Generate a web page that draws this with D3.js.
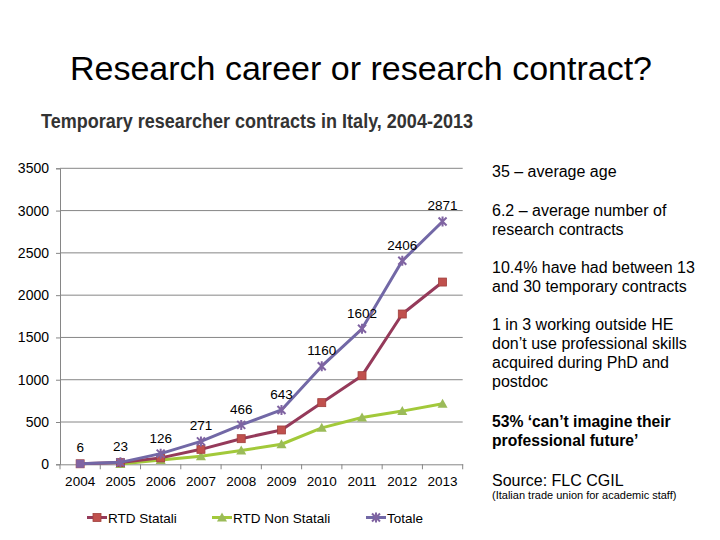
<!DOCTYPE html>
<html><head><meta charset="utf-8">
<script src="https://cdn.jsdelivr.net/npm/d3@7/dist/d3.min.js"></script>
<style>
body{margin:0;background:#fff;}
svg{display:block;font-family:"Liberation Sans",Arial,sans-serif;}
</style></head>
<body>
<svg id="c" width="720" height="540"></svg>
<script>
const years = ["2004","2005","2006","2007","2008","2009","2010","2011","2012","2013"];
const statali = [6, 20, 76, 177, 303, 406, 729, 1048, 1777, 2155];
const nonStatali = [null, 3, 50, 94, 163, 237, 431, 554, 629, 716];
const totale = [6, 23, 126, 271, 466, 643, 1160, 1602, 2406, 2871];
const yTicks = [0, 500, 1000, 1500, 2000, 2500, 3000, 3500];
const seriesNames = ["RTD Statali", "RTD Non Statali", "Totale"];
const notes = [
  ["35 – average age"],
  ["6.2 – average number of", "research contracts"],
  ["10.4% have had between 13", "and 30 temporary contracts"],
  ["1 in 3 working outside HE", "don’t use professional skills", "acquired during PhD and", "postdoc"]
];
const boldNote = ["53% ‘can’t imagine their", "professional future’"];
const source = "Source: FLC CGIL";
const sourceNote = "(Italian trade union for academic staff)";

const svg = d3.select("#c");
const L = 60, R = 462.7, T = 168.3, B = 464.3;
const x = d3.scaleBand().domain(years).range([L, R]);
const y = d3.scaleLinear().domain([0, 3500]).range([B, T]);
const cx = d => x(d) + x.bandwidth() / 2;

// Title
svg.append("text").attr("x", 361).attr("y", 80).attr("text-anchor", "middle")
  .attr("font-size", 34).attr("fill", "#000").text("Research career or research contract?");
svg.append("text").attr("x", 41).attr("y", 128)
  .attr("font-weight", "bold").attr("font-size", 19.5).attr("fill", "#333")
  .attr("textLength", 432).attr("lengthAdjust", "spacingAndGlyphs")
  .text("Temporary researcher contracts in Italy, 2004-2013");

// grid
const g = svg.append("g");
g.selectAll("line.grid").data(yTicks.slice(1)).join("line")
  .attr("x1", L).attr("x2", R).attr("y1", d => y(d)).attr("y2", d => y(d))
  .attr("stroke", "#868686").attr("stroke-width", 1);

// y axis
const yAxis = d3.axisLeft(y).tickValues(yTicks).tickFormat(d3.format("d")).tickSize(4).tickPadding(7);
const ya = svg.append("g").attr("transform", `translate(${L},0)`).call(yAxis);
ya.select(".domain").attr("stroke", "#868686");
ya.selectAll(".tick line").attr("stroke", "#868686");
ya.selectAll(".tick text").attr("font-size", 14).attr("fill", "#000")
  .attr("font-family", "'Liberation Sans',Arial,sans-serif");

// x axis
const xAxis = d3.axisBottom(x).tickSize(0).tickPadding(12);
const xa = svg.append("g").attr("transform", `translate(0,${B})`).call(xAxis);
xa.select(".domain").attr("stroke", "#868686");
xa.selectAll(".tick text").attr("font-size", 13.5).attr("fill", "#000")
  .attr("font-family", "'Liberation Sans',Arial,sans-serif");
const bounds = years.map(d => x(d)).concat([R]);
xa.selectAll("line.bt").data(bounds).join("line").attr("class", "bt")
  .attr("x1", d => d).attr("x2", d => d).attr("y1", 0).attr("y2", 5)
  .attr("stroke", "#868686");

const lineColors = ["#953a5a", "#a2c93a", "#7268a6"];
const markColors = ["#c0504d", "#9bbb59", "#8064a2"];
const data = [statali, nonStatali, totale];
const line = d3.line().defined(d => d.v !== null).x(d => cx(d.k)).y(d => y(d.v));

function marker(sel, i, px, py) {
  if (i === 0) {
    sel.append("rect").attr("x", px - 4).attr("y", py - 4).attr("width", 8).attr("height", 8)
      .attr("fill", markColors[0]).attr("stroke", "#a0403d").attr("stroke-width", 0.8);
  } else if (i === 1) {
    sel.append("path").attr("d", `M${px},${py - 5}L${px + 5},${py + 4}L${px - 5},${py + 4}Z`)
      .attr("fill", markColors[1]);
  } else {
    sel.append("path").attr("d", `M${px - 4},${py - 4}L${px + 4},${py + 4}M${px + 4},${py - 4}L${px - 4},${py + 4}M${px},${py - 5}L${px},${py + 5}`)
      .attr("stroke", markColors[2]).attr("stroke-width", 2).attr("fill", "none");
  }
}

[1, 0, 2].forEach(i => {
  const pts = years.map((k, j) => ({ k, v: data[i][j] }));
  svg.append("path").datum(pts).attr("d", line).attr("fill", "none")
    .attr("stroke", lineColors[i]).attr("stroke-width", 3).attr("stroke-linejoin", "round");
  const mg = svg.append("g");
  pts.filter(p => p.v !== null).forEach(p => {
    if (i === 2 && p.k === "2004") {
      mg.append("rect").attr("x", cx(p.k) - 4).attr("y", y(p.v) - 4).attr("width", 8).attr("height", 8)
        .attr("fill", markColors[2]);
    } else marker(mg, i, cx(p.k), y(p.v));
  });
});

// data labels
svg.append("g").selectAll("text").data(years).join("text")
  .attr("x", d => cx(d))
  .attr("y", (d, j) => Math.min(y(totale[j]) - 11, 452))
  .attr("text-anchor", "middle").attr("font-size", 13.5).attr("fill", "#000")
  .text((d, j) => totale[j]);

// legend
const lx = [87, 212, 366];
seriesNames.forEach((n, i) => {
  const lg = svg.append("g");
  lg.append("line").attr("x1", lx[i]).attr("x2", lx[i] + 20).attr("y1", 517.5).attr("y2", 517.5)
    .attr("stroke", lineColors[i]).attr("stroke-width", 3);
  marker(lg, i, lx[i] + 10, 517.5);
  lg.append("text").attr("x", lx[i] + 21).attr("y", 522.5).attr("font-size", 13.5).attr("fill", "#000").text(n);
});

// notes
const nx = 492;
const noteYs = [[177], [216, 235], [273, 292], [330, 349, 368, 387]];
notes.forEach((blk, b) => blk.forEach((t, k) => {
  svg.append("text").attr("x", nx).attr("y", noteYs[b][k]).attr("font-size", 16).attr("fill", "#000").text(t);
}));
boldNote.forEach((t, k) => {
  svg.append("text").attr("x", nx).attr("y", 427 + k * 19).attr("font-size", 15.7).attr("font-weight", "bold").attr("fill", "#000").text(t);
});
svg.append("text").attr("x", nx).attr("y", 486).attr("font-size", 16).attr("fill", "#000").text(source);
svg.append("text").attr("x", nx).attr("y", 498.5).attr("font-size", 11).attr("fill", "#000").text(sourceNote);
</script>
</body></html>
